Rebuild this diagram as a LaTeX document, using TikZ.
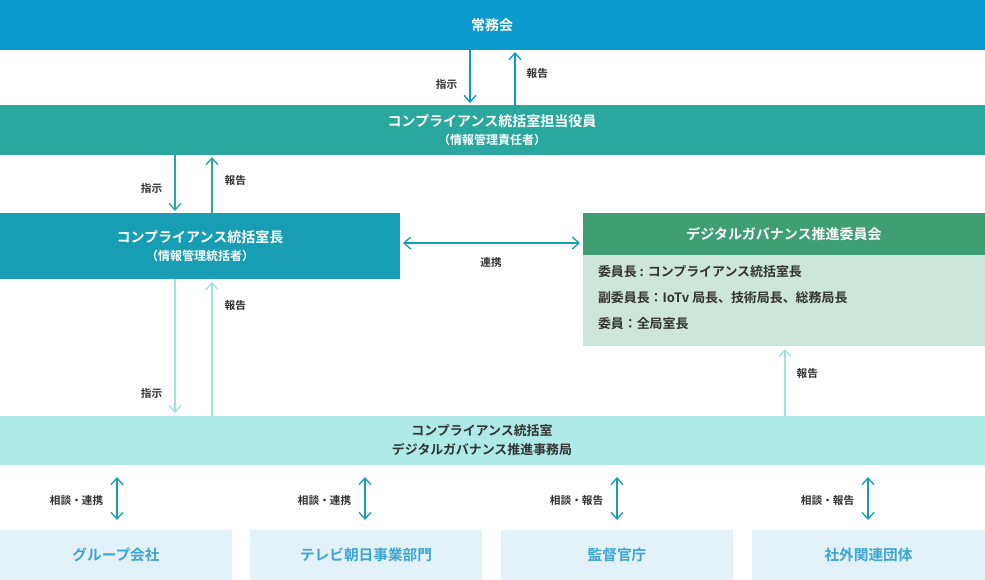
\documentclass[tikz,border=0pt]{standalone}
\usepackage{fontspec}
\setmainfont{Noto Sans CJK JP}[BoldFont={* Bold}]
\usetikzlibrary{arrows.meta}
\definecolor{cblue}{HTML}{0B9ACD}
\definecolor{cteal}{HTML}{2AA79E}
\definecolor{cbt}{HTML}{179EB4}
\definecolor{cgreen}{HTML}{3F9E73}
\definecolor{clgreen}{HTML}{CDE6DC}
\definecolor{ccyan}{HTML}{AEEAE6}
\definecolor{ccyanA}{HTML}{9FE3DE}
\definecolor{cpale}{HTML}{E3F1F8}
\definecolor{ctxt}{HTML}{3AA5D6}
\definecolor{cdark}{HTML}{333333}
\begin{document}
\begin{tikzpicture}[x=0.75pt,y=-0.75pt,
  box/.style={inner sep=0,outer sep=0,font=\bfseries\fontsize{10.5}{14}\selectfont,align=center},
  lab/.style={font=\bfseries\fontsize{8}{9}\selectfont,text=cdark},
  tip/.tip={Straight Barb[length=5pt,width=9pt,line width=1pt]},
  arr/.style={-tip,line width=1.2pt}]
\useasboundingbox (0,0) rectangle (985,580);
\fill[cblue] (0,0) rectangle (985,50);
\node[box,text=white] (jm) at (492,25) {常務会};
\fill[cteal] (0,105) rectangle (985,155);
\node[box,text=white] (yk) at (492,130) {コンプライアンス統括室担当役員\\{\fontsize{9}{12}\selectfont（情報管理責任者）}};
\fill[cbt] (0,213) rectangle (400,279);
\node[box,text=white] (ch) at (200,246) {コンプライアンス統括室長\\{\fontsize{9}{12}\selectfont（情報管理統括者）}};
\fill[cgreen] (583,213) rectangle (985,255);
\node[box,text=white] (dg) at (784,234) {デジタルガバナンス推進委員会};
\fill[clgreen] (583,255) rectangle (985,346);
\node[box,text=cdark,align=left,anchor=west,font=\bfseries\fontsize{9.7}{19.5}\selectfont] (mem) at (598,298) {委員長 : コンプライアンス統括室長\\副委員長：IoTv 局長、技術局長、総務局長\\委員：全局室長};
\fill[ccyan] (0,416) rectangle (985,465);
\node[box,text=cdark,font=\bfseries\fontsize{9.7}{14}\selectfont] (jk) at (482,440) {コンプライアンス統括室\\デジタルガバナンス推進事務局};
\foreach \a/\b/\t/\n in {0/232/グループ会社/g1,250/482/テレビ朝日事業部門/g2,501/733/監督官庁/g3,752/985/社外関連団体/g4}{
  \fill[cpale] (\a,530) rectangle (\b,580);
  \node[box,text=ctxt,font=\bfseries\fontsize{11}{14}\selectfont] (\n) at ({(\a+\b)/2},555) {\t};
}
% arrows
\coordinate (a1) at (470,50); \coordinate (a2) at (470,103);
\draw[arr,cblue] (a1)--(a2); \node[lab,anchor=east] at (462,84) {指示};
\coordinate (b1) at (515,105); \coordinate (b2) at (515,52);
\draw[arr,cblue] (b1)--(b2); \node[lab,anchor=west] at (522,73) {報告};
\coordinate (c1) at (175,155); \coordinate (c2) at (175,211);
\draw[arr,cteal] (c1)--(c2); \node[lab,anchor=east] at (167,188) {指示};
\coordinate (d1) at (212,213); \coordinate (d2) at (212,157);
\draw[arr,cteal] (d1)--(d2); \node[lab,anchor=west] at (220,180) {報告};
\coordinate (e1) at (403,243); \coordinate (e2) at (580,243);
\draw[arr,cbt,tip-tip] (e1)--(e2);
\node[lab] at (491,262) {連携};
\coordinate (f1) at (175,279); \coordinate (f2) at (175,413);
\draw[arr,ccyanA] (f1)--(f2); \node[lab,anchor=east] at (167,393) {指示};
\coordinate (g1a) at (212,416); \coordinate (g2a) at (212,282);
\draw[arr,ccyanA] (g1a)--(g2a); \node[lab,anchor=west] at (220,305) {報告};
\coordinate (h1) at (785,416); \coordinate (h2) at (785,349);
\draw[arr,ccyanA] (h1)--(h2); \node[lab,anchor=west] at (792,373) {報告};
\foreach \x/\t in {117/相談・連携,365/相談・連携,617/相談・報告,868/相談・報告}{
  \draw[arr,cbt,tip-tip] (\x,477)--(\x,520);
  \node[lab,anchor=east] at (\x-9,500) {\t};
}
\end{tikzpicture}
\end{document}
